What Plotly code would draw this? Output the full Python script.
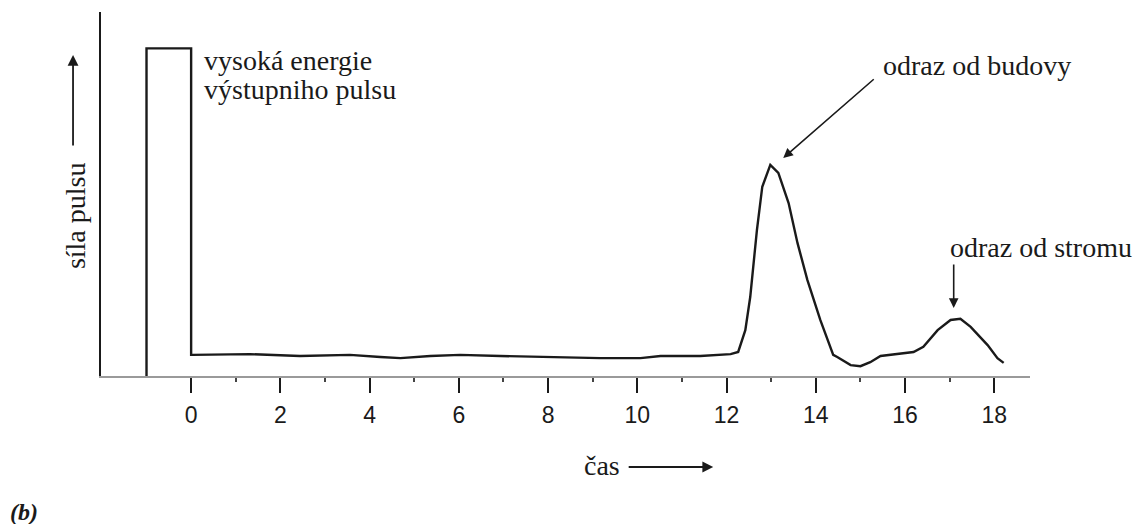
import plotly.graph_objects as go

# time (x) and pulse strength (y)
time = [-1.0, -1.0, 0.0, 0.0, 0.02, 1.32, 2.44, 3.56, 4.24, 4.69, 5.36, 6.03, 6.93, 8.05, 9.17,
        10.07, 10.52, 11.41, 11.86, 12.09, 12.26, 12.42, 12.53, 12.60, 12.68, 12.80, 12.98,
        13.16, 13.39, 13.59, 13.81, 14.10, 14.39, 14.48, 14.78, 15.00, 15.22, 15.45, 15.74,
        16.19, 16.41, 16.73, 17.02, 17.24, 17.47, 17.85, 18.07, 18.21]
strength = [0.0, 9.0, 9.0, 0.58, 0.58, 0.60, 0.55, 0.58, 0.52, 0.49, 0.55, 0.58, 0.55, 0.52, 0.49,
            0.49, 0.55, 0.55, 0.58, 0.60, 0.66, 1.26, 2.17, 3.10, 4.01, 5.20, 5.80,
            5.58, 4.75, 3.65, 2.64, 1.54, 0.58, 0.52, 0.30, 0.27, 0.38, 0.55, 0.60,
            0.66, 0.80, 1.26, 1.54, 1.57, 1.35, 0.85, 0.49, 0.36]

major_ticks = [0, 2, 4, 6, 8, 10, 12, 14, 16, 18]
minor_ticks = [1, 3, 5, 7, 9, 11, 13, 15, 17]

serif = "Times New Roman, Liberation Serif, serif"
sans = "Liberation Sans"
ink = "#1a1a1a"

fig = go.Figure()
fig.add_trace(go.Scatter(x=time, y=strength, mode="lines",
                         line=dict(color=ink, width=2.4), hoverinfo="skip", showlegend=False))

fig.update_layout(
    width=1140, height=516,
    margin=dict(l=93, r=118, t=4, b=148),
    paper_bgcolor="white", plot_bgcolor="white",
    xaxis=dict(range=[-2.02, 18.8], showgrid=False, zeroline=False,
               showline=True, linecolor="#9a9a9a", linewidth=1.5,
               tickmode="array", tickvals=major_ticks,
               ticks="outside", ticklen=15, tickwidth=2, tickcolor=ink,
               ticklabelstandoff=3,
               tickfont=dict(family=sans, size=23, color=ink),
               minor=dict(tickmode="array", tickvals=minor_ticks, ticks="outside",
                          ticklen=4, tickwidth=2, tickcolor="#444")),
    yaxis=dict(range=[0, 10], showgrid=False, zeroline=False,
               showline=True, linecolor=ink, linewidth=2,
               showticklabels=False, ticks=""),
)

anns = [
    dict(x=0.25, y=8.68, xref="x", yref="y", text="vysoká energie", showarrow=False,
         xanchor="left", yanchor="middle", font=dict(family=serif, size=28, color=ink)),
    dict(x=0.25, y=7.86, xref="x", yref="y", text="výstupniho pulsu", showarrow=False,
         xanchor="left", yanchor="middle", font=dict(family=serif, size=28, color=ink)),
    dict(x=15.45, y=8.54, xref="x", yref="y", text="odraz od budovy", showarrow=False,
         xanchor="left", yanchor="middle", font=dict(family=serif, size=28, color=ink)),
    dict(x=16.97, y=3.54, xref="x", yref="y", text="odraz od stromu", showarrow=False,
         xanchor="left", yanchor="middle", font=dict(family=serif, size=28, color=ink)),
    # arrows
    dict(x=13.27, y=5.99, xref="x", yref="y", text="", showarrow=True, ax=92, ay=-80,
         arrowhead=2, arrowsize=1.2, arrowwidth=1.6, arrowcolor=ink, standoff=0),
    dict(x=17.09, y=1.87, xref="x", yref="y", text="", showarrow=True, ax=0, ay=-45,
         arrowhead=2, arrowsize=1.2, arrowwidth=1.6, arrowcolor=ink, standoff=0),
    # axis titles
    dict(x=8.77, y=-0.247, xref="x", yref="paper", text="čas", showarrow=False,
         xanchor="left", yanchor="middle", font=dict(family=serif, size=28, color=ink)),
    dict(x=11.70, y=-0.25, xref="x", yref="paper", text="", showarrow=True, ax=-86, ay=0,
         arrowhead=2, arrowsize=1.2, arrowwidth=1.8, arrowcolor=ink, standoff=0),
    dict(x=-0.028, y=0.442, xref="paper", yref="paper", text="síla pulsu", showarrow=False,
         textangle=-90, xanchor="center", yanchor="middle",
         font=dict(family=serif, size=28, color=ink)),
    dict(x=-0.0301, y=0.882, xref="paper", yref="paper", text="", showarrow=True, ax=0, ay=92,
         arrowhead=2, arrowsize=1.2, arrowwidth=1.8, arrowcolor=ink, standoff=0),
    dict(x=-0.1001, y=-0.374, xref="paper", yref="paper", text="<b><i>(b)</i></b>",
         showarrow=False, xanchor="left", yanchor="middle",
         font=dict(family=serif, size=24, color=ink)),
]
fig.update_layout(annotations=anns)

fig.write_html("out.html")
